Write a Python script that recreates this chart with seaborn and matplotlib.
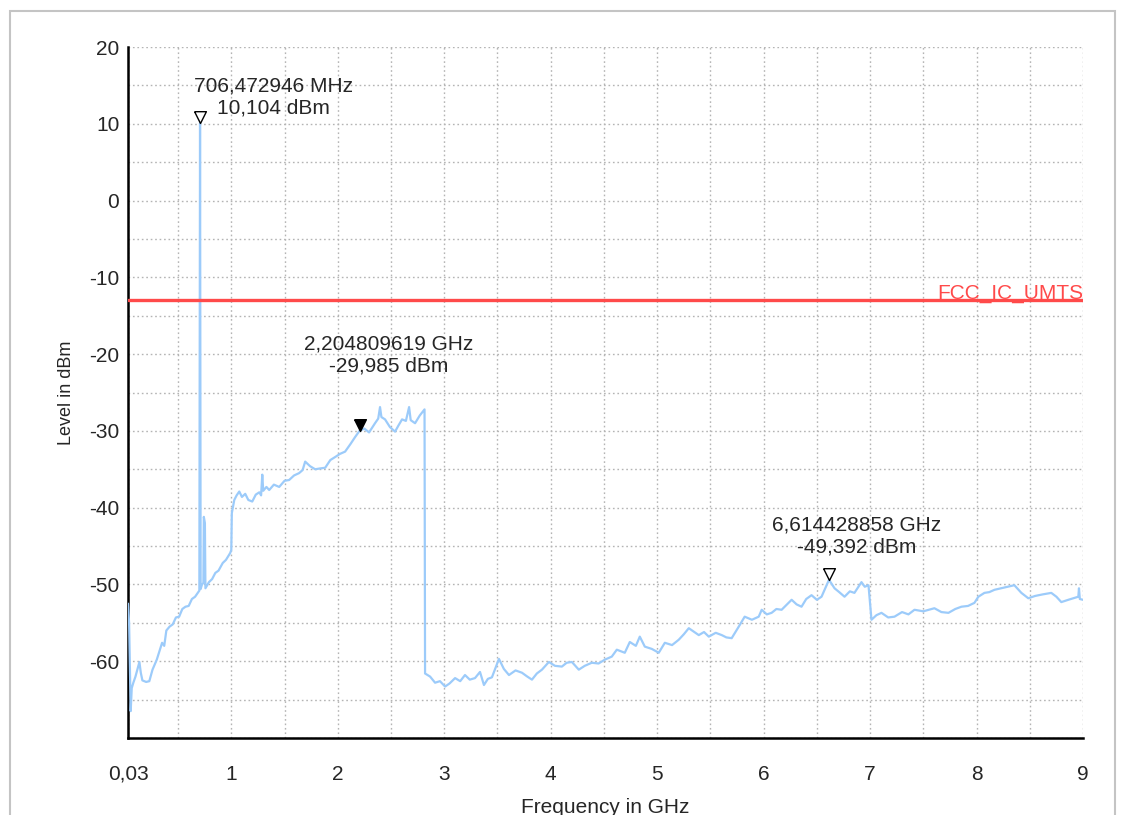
import matplotlib
matplotlib.use("Agg")
import matplotlib.pyplot as plt
from matplotlib.patches import Rectangle
from matplotlib.ticker import MultipleLocator, FixedLocator
import pandas as pd
import seaborn as sns

# spectrum trace
freq_ghz = [
    0.030, 0.040, 0.055, 0.065, 0.080, 0.100, 0.120, 0.137, 0.150, 0.165,
    0.200, 0.230, 0.260, 0.300, 0.350, 0.370, 0.390, 0.420, 0.450, 0.480,
    0.510, 0.540, 0.570, 0.600, 0.630, 0.660, 0.690, 0.700, 0.7065, 0.712,
    0.725, 0.738, 0.742, 0.752, 0.757, 0.790, 0.820, 0.850, 0.880, 0.920,
    0.950, 0.990, 1.000, 1.005, 1.028, 1.050, 1.075, 1.100, 1.131, 1.160,
    1.197, 1.230, 1.263, 1.280, 1.291, 1.300, 1.330, 1.356, 1.400, 1.450,
    1.500, 1.543, 1.590, 1.637, 1.670, 1.694, 1.740, 1.788, 1.830, 1.882,
    1.930, 1.976, 2.020, 2.069, 2.120, 2.163, 2.2048, 2.250, 2.294, 2.350,
    2.380, 2.397, 2.410, 2.444, 2.490, 2.538, 2.570, 2.604, 2.640, 2.670,
    2.685, 2.726, 2.770, 2.815, 2.820, 2.867, 2.914, 2.960, 3.008, 3.050,
    3.102, 3.150, 3.195, 3.240, 3.289, 3.336, 3.373, 3.410, 3.448, 3.514,
    3.560, 3.608, 3.670, 3.730, 3.780, 3.824, 3.870, 3.918, 3.983, 4.040,
    4.105, 4.150, 4.199, 4.264, 4.320, 4.386, 4.450, 4.508, 4.574, 4.621,
    4.696, 4.743, 4.800, 4.837, 4.884, 4.950, 5.015, 5.072, 5.140, 5.203,
    5.250, 5.297, 5.391, 5.440, 5.485, 5.550, 5.607, 5.650, 5.700, 5.775,
    5.822, 5.890, 5.954, 5.982, 6.030, 6.075, 6.120, 6.169, 6.220, 6.263,
    6.310, 6.356, 6.400, 6.450, 6.500, 6.544, 6.614, 6.666, 6.710, 6.760,
    6.810, 6.853, 6.919, 6.950, 6.985, 7.013, 7.060, 7.107, 7.170, 7.229,
    7.300, 7.360, 7.417, 7.500, 7.604, 7.670, 7.736, 7.800, 7.858, 7.920,
    7.980, 8.017, 8.074, 8.120, 8.168, 8.260, 8.355, 8.421, 8.486, 8.550,
    8.620, 8.702, 8.750, 8.796, 8.862, 8.910, 8.956, 8.962, 8.970, 9.000,
]
level_dbm = [
    -52.5, -55.0, -66.5, -63.5, -62.8, -62.0, -61.0, -60.1, -61.5, -62.5,
    -62.7, -62.6, -61.1, -59.8, -57.6, -58.0, -56.0, -55.5, -55.2, -54.3,
    -54.2, -53.2, -52.9, -52.8, -51.9, -51.6, -51.0, -50.8, 10.104, -50.6,
    -50.0, -49.8, -41.2, -42.0, -50.5, -49.7, -49.3, -48.5, -48.2, -47.2,
    -46.8, -45.9, -45.5, -40.7, -39.0, -38.4, -37.9, -38.6, -38.2, -39.0,
    -39.2, -38.3, -38.0, -38.4, -35.7, -37.8, -37.3, -37.7, -37.0, -37.3,
    -36.5, -36.4, -35.8, -35.5, -35.1, -34.0, -34.6, -35.0, -34.9, -34.8,
    -33.8, -33.4, -33.0, -32.7, -31.7, -30.8, -29.985, -29.7, -30.2, -29.0,
    -28.4, -26.9, -28.2, -28.5, -29.5, -30.1, -29.3, -28.5, -28.7, -26.9,
    -28.6, -29.0, -28.0, -27.2, -61.6, -62.0, -62.8, -62.6, -63.3, -62.9,
    -62.2, -62.6, -61.8, -62.4, -62.2, -61.4, -63.1, -62.3, -62.1, -59.7,
    -61.0, -61.8, -61.2, -61.5, -62.0, -62.4, -61.6, -61.1, -60.1, -60.6,
    -60.7, -60.2, -60.1, -61.1, -60.6, -60.2, -60.3, -59.8, -59.4, -58.5,
    -58.9, -57.5, -58.0, -56.8, -58.1, -58.4, -58.9, -57.6, -57.9, -57.2,
    -56.5, -55.7, -56.6, -56.2, -56.8, -56.3, -56.6, -56.9, -57.0, -55.3,
    -54.2, -54.6, -54.2, -53.3, -53.9, -53.7, -53.2, -53.3, -52.6, -52.0,
    -52.6, -52.9, -51.9, -51.4, -52.0, -51.6, -49.392, -50.5, -51.0, -51.6,
    -50.9, -51.1, -49.7, -50.3, -50.1, -54.6, -54.0, -53.7, -54.3, -54.2,
    -53.6, -53.9, -53.3, -53.5, -53.1, -53.6, -53.7, -53.2, -52.9, -52.8,
    -52.4, -51.6, -51.1, -51.0, -50.7, -50.4, -50.1, -51.1, -51.8, -51.5,
    -51.3, -51.1, -51.6, -52.3, -52.0, -51.8, -51.6, -50.5, -51.9, -52.0,
]

limit_name = "FCC_IC_UMTS"
limit_freq = [0.03, 9.0]
limit_level = [-13.0, -13.0]

marker_freq = [0.706472946, 2.204809619, 6.614428858]
marker_level = [10.104, -29.985, -49.392]
marker_text = ["706,472946 MHz\n10,104 dBm",
               "2,204809619 GHz\n-29,985 dBm",
               "6,614428858 GHz\n-49,392 dBm"]
marker_filled = [False, True, False]

x_ticks = [0.03, 1, 2, 3, 4, 5, 6, 7, 8, 9]
x_tick_labels = ["0,03", "1", "2", "3", "4", "5", "6", "7", "8", "9"]
y_ticks = [-60, -50, -40, -30, -20, -10, 0, 10, 20]

sns.set_style("white")
plt.rcParams['font.family'] = ['Liberation Sans', 'DejaVu Sans']
plt.rcParams['axes.unicode_minus'] = False

trace = pd.DataFrame({"freq": freq_ghz, "level": level_dbm})
limit = pd.DataFrame({"freq": limit_freq, "level": limit_level})

fig = plt.figure(figsize=(11.23, 8.15), dpi=100)
ax = fig.add_axes([0.114, 0.0945, 0.8504, 0.8478])

sns.lineplot(data=trace, x="freq", y="level", ax=ax, color="#9ccbfa",
             lw=1.6, sort=False, estimator=None, zorder=3)
sns.lineplot(data=limit, x="freq", y="level", ax=ax, color="#ff4a4a",
             lw=2.4, sort=False, estimator=None, zorder=4)

ax.annotate(limit_name, (limit_freq[1], limit_level[1]), xytext=(-105, 1.5),
            textcoords="offset points", color="#ff4a4a", fontsize=15,
            ha="left", va="baseline", annotation_clip=False)

# marker triangles, tip at the data point
tri = [(-0.5, 1.0), (0.5, 1.0), (0.0, 0.0), (-0.5, 1.0)]
offsets = [(53, 4), (21, 40), (20, 17)]
for f, l, txt, filled, off in zip(marker_freq, marker_level, marker_text,
                                  marker_filled, offsets):
    ax.plot([f], [l], marker=tri, markersize=17, linestyle="none",
            markerfacecolor="black" if filled else "white",
            markeredgecolor="black", markeredgewidth=1.0, zorder=5)
    ax.annotate(txt, (f, l), xytext=off, textcoords="offset points",
                ha="center", va="bottom", multialignment="center",
                fontsize=15, linespacing=1.2, zorder=6)

ax.set_xlim(0.03, 9.0)
ax.set_ylim(-70, 20)
ax.xaxis.set_major_locator(FixedLocator(x_ticks))
ax.set_xticklabels(x_tick_labels)
ax.xaxis.set_minor_locator(MultipleLocator(0.5))
ax.yaxis.set_major_locator(FixedLocator(y_ticks))
ax.yaxis.set_minor_locator(MultipleLocator(5))

ax.grid(True, which="both", color="#b4b4b4", linestyle=(0, (1.2, 2.0)), lw=1.0)
ax.set_axisbelow(True)

for side in ["top", "right"]:
    ax.spines[side].set_visible(False)
for side in ["left", "bottom"]:
    ax.spines[side].set_color("black")
    ax.spines[side].set_linewidth(1.8)

ax.tick_params(axis="both", which="both", direction="inout", length=10.5,
               width=1.4, color="black", labelsize=15)
ax.tick_params(axis="x", which="both", pad=14)
ax.tick_params(axis="y", which="both", pad=1)

ax.set_xlabel("Frequency in GHz", fontsize=15, labelpad=10)
ax.set_ylabel("Level in dBm", fontsize=13, labelpad=10)

fig.patches.append(Rectangle((0.0089, -0.05), 0.984, 1.0365,
                             transform=fig.transFigure, fill=False,
                             edgecolor="#c4c4c4", lw=1.5))

fig.savefig("out.png", dpi=100)
